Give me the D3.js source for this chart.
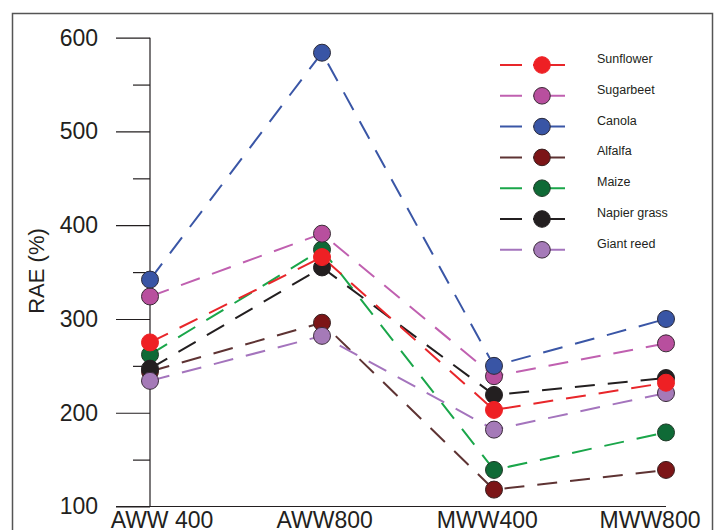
<!DOCTYPE html>
<html lang="en">
  <head>
    <meta charset="UTF-8" />
    <title>RAE (%)</title>
    <style>
      body { margin: 0; background: #fff; }
      text {
        font-family: "Liberation Sans", Arial, sans-serif;
        fill: #231f20;
      }
      .axis path, .axis line { stroke: #231f20; stroke-width: 1.2px; }
      .axis text { font-size: 23px; }
      .legend text { font-size: 12.5px; }
    </style>
  </head>
  <body>
    <script src="https://cdn.jsdelivr.net/npm/d3@7"></script>
    <script>

      // categories along the x axis
      var categories = ["AWW 400", "AWW800", "MWW400", "MWW800"];

      // series names, in legend order
      var names = ["Sunflower", "Sugarbeet", "Canola", "Alfalfa", "Maize", "Napier grass", "Giant reed"];

      // RAE values (%) per series, one per category
      var sunflower  = [275, 366, 203, 232];
      var sugarbeet  = [324, 391, 239, 274];
      var canola     = [342, 584, 250, 300];
      var alfalfa    = [244, 296, 118, 139];
      var maize      = [262, 374, 139, 179];
      var napier     = [247, 355, 219, 237];
      var giantReed  = [234, 282, 182, 221];

      var yTicks = [100, 200, 300, 400, 500, 600];
      var yMinorTicks = [150, 250, 350, 450, 550];

      // colours: line, marker fill, marker stroke
      var lineColors   = ["#e8262a", "#c060b0", "#3a56a6", "#5e3333", "#1aa64a", "#231f20", "#a474bd"];
      var markerColors = ["#ee2024", "#b84f9e", "#3955a5", "#7c1517", "#0f6a36", "#231f20", "#a57ab8"];
      var markerStroke = ["#ee2024", "#3a2a35", "#2a2a3a", "#3a2020", "#203a28", "#231f20", "#3a2a3a"];

      var values = [sunflower, sugarbeet, canola, alfalfa, maize, napier, giantReed];

      var series = names.map(function(n, i) {
        return { name: n, values: values[i], line: lineColors[i], fill: markerColors[i], stroke: markerStroke[i] };
      });

      // drawing order so the overlaps look like the original
      var drawOrder = [3, 4, 5, 6, 1, 2, 0];

      var w = 720, h = 530;

      var svg = d3.select("body").append("svg")
        .attr("width", w)
        .attr("height", h);

      // frame
      svg.append("rect")
        .attr("x", 12.5).attr("y", 13.5)
        .attr("width", 700).attr("height", 540)
        .attr("fill", "none")
        .attr("stroke", "#555")
        .attr("stroke-width", 1.5);

      var xScale = d3.scalePoint()
        .domain(categories)
        .range([150, 666]);

      // labels sit a bit inward from the tick positions
      var xLabel = d3.scalePoint()
        .domain(categories)
        .range([162, 650]);

      var yScale = d3.scaleLinear()
        .domain([100, 600])
        .range([506.5, 37.7]);

      // y axis, major ticks
      var yAxis = d3.axisLeft(yScale)
        .tickValues(yTicks)
        .tickSize(34)
        .tickPadding(18)
        .tickSizeOuter(0);

      var gy = svg.append("g")
        .attr("class", "axis")
        .attr("transform", "translate(150,0)")
        .call(yAxis);
      gy.select(".domain").attr("d", "M0," + yScale(600) + "V" + yScale(100));

      // minor ticks
      svg.append("g")
        .attr("class", "axis")
        .attr("transform", "translate(150,0)")
        .call(d3.axisLeft(yScale).tickValues(yMinorTicks).tickSize(17).tickFormat("").tickSizeOuter(0))
        .select(".domain").remove();

      // x axis line
      svg.append("line")
        .attr("x1", 116).attr("x2", xScale("MWW800"))
        .attr("y1", yScale(100)).attr("y2", yScale(100))
        .attr("stroke", "#231f20")
        .attr("stroke-width", 1.2);

      svg.append("g")
        .attr("class", "axis")
        .selectAll("text")
        .data(categories)
        .enter()
        .append("text")
        .attr("x", function(d) { return xLabel(d); })
        .attr("y", 528)
        .attr("text-anchor", "middle")
        .text(function(d) { return d; });

      // y title
      svg.append("text")
        .attr("transform", "translate(44,271) rotate(-90)")
        .attr("text-anchor", "middle")
        .style("font-size", "22px")
        .text("RAE (%)");

      var line = d3.line()
        .x(function(d, i) { return xScale(categories[i]); })
        .y(function(d) { return yScale(d); });

      var ordered = drawOrder.map(function(i) { return series[i]; });

      svg.append("g").selectAll("path")
        .data(ordered)
        .enter()
        .append("path")
        .attr("d", function(d) { return line(d.values); })
        .attr("fill", "none")
        .attr("stroke", function(d) { return d.line; })
        .attr("stroke-width", 2)
        .attr("stroke-dasharray", "20,13");

      ordered.forEach(function(s) {
        svg.append("g").selectAll("circle")
          .data(s.values)
          .enter()
          .append("circle")
          .attr("cx", function(d, i) { return xScale(categories[i]); })
          .attr("cy", function(d) { return yScale(d); })
          .attr("r", 8.5)
          .attr("fill", s.fill)
          .attr("stroke", s.stroke)
          .attr("stroke-width", 1);
      });

      // legend
      var legend = svg.append("g")
        .attr("class", "legend")
        .selectAll("g")
        .data(series)
        .enter()
        .append("g")
        .attr("transform", function(d, i) { return "translate(0," + (65 + i * 30.8) + ")"; });

      legend.append("line")
        .attr("x1", 500).attr("x2", 565)
        .attr("stroke", function(d) { return d.line; })
        .attr("stroke-width", 2)
        .attr("stroke-dasharray", "22,11,40");

      legend.append("circle")
        .attr("cx", 542)
        .attr("r", 8.3)
        .attr("fill", function(d) { return d.fill; })
        .attr("stroke", function(d) { return d.stroke; })
        .attr("stroke-width", 1);

      legend.append("text")
        .attr("x", 597)
        .attr("y", -2)
        .text(function(d) { return d.name; });

    </script>
  </body>
</html>
